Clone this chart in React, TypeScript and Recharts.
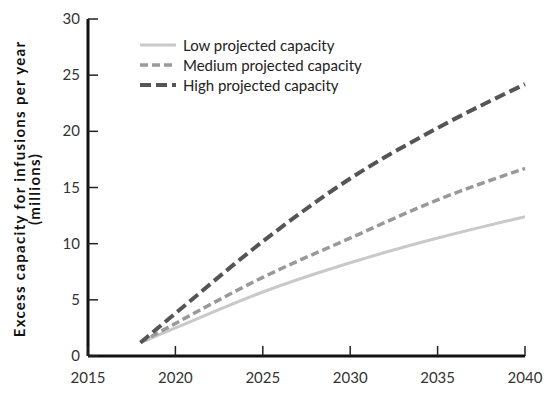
import { LineChart, Line, XAxis, YAxis } from 'recharts';

const years = [2018, 2020, 2025, 2030, 2035, 2040];
const lowCapacity = [1.2, 2.5, 5.7, 8.3, 10.5, 12.4];
const mediumCapacity = [1.2, 2.9, 7.0, 10.5, 13.9, 16.7];
const highCapacity = [1.2, 3.8, 10.2, 15.8, 20.3, 24.2];

const xTicks = [2015, 2020, 2025, 2030, 2035, 2040];
const yTicks = [0, 5, 10, 15, 20, 25, 30];

const seriesInfo = [
  { key: 'low', name: 'Low projected capacity', color: '#c9c9c9', width: 3, dash: undefined },
  { key: 'medium', name: 'Medium projected capacity', color: '#999999', width: 3.5, dash: '8 4' },
  { key: 'high', name: 'High projected capacity', color: '#555555', width: 4, dash: '11 5' },
];

const chartData = years.map((year, i) => ({
  year,
  low: lowCapacity[i],
  medium: mediumCapacity[i],
  high: highCapacity[i],
}));

const FONT = 'Lato, sans-serif';

function YTick({ x, y, payload }: any) {
  return (
    <g>
      <line x1={x} y1={y} x2={x + 10} y2={y} stroke="#222" strokeWidth={1.5} />
      <text x={x - 8} y={y} dy={5} textAnchor="end" fontSize={15} fill="#333" fontFamily={FONT}>
        {payload.value}
      </text>
    </g>
  );
}

function XTick({ x, y, payload }: any) {
  return (
    <g>
      <line x1={x} y1={y} x2={x} y2={y - 10} stroke="#222" strokeWidth={1.5} />
      <text x={x} y={y + 27} textAnchor="middle" fontSize={15} fill="#333" fontFamily={FONT}>
        {payload.value}
      </text>
    </g>
  );
}

function LegendBox() {
  return (
    <div style={{ position: 'absolute', left: 140, top: 35, fontFamily: FONT, fontSize: 15, color: '#222' }}>
      {seriesInfo.map((s) => (
        <div key={s.key} style={{ display: 'flex', alignItems: 'center', height: 20 }}>
          <svg width={43} height={10}>
            <line x1={0} y1={5} x2={36} y2={5} stroke={s.color} strokeWidth={s.width} strokeDasharray={s.dash} />
          </svg>
          <span>{s.name}</span>
        </div>
      ))}
    </div>
  );
}

function YLabel() {
  return (
    <text
      transform="translate(27, 189) rotate(-90)"
      textAnchor="middle"
      fontFamily={FONT}
      fontWeight={700}
      fontSize={15}
      letterSpacing={1.3}
      fill="#111"
    >
      <tspan x={0} dy={-2}>Excess capacity for infusions per year</tspan>
      <tspan x={0} dy={15}>(millions)</tspan>
    </text>
  );
}

export default function App() {
  return (
    <div style={{ position: 'absolute', left: 0, top: 0, width: 555, height: 395, background: '#fff' }}>
      <LineChart width={555} height={395} data={chartData} margin={{ top: 19, right: 30, bottom: 9, left: 28 }}>
        <XAxis
          dataKey="year"
          type="number"
          domain={[2015, 2040]}
          ticks={xTicks}
          height={30}
          tickSize={0}
          tickMargin={0}
          tickLine={false}
          tick={<XTick />}
          axisLine={{ stroke: '#111', strokeWidth: 3 }}
        />
        <YAxis
          type="number"
          domain={[0, 30]}
          ticks={yTicks}
          width={60}
          tickSize={0}
          tickMargin={0}
          tickLine={false}
          tick={<YTick />}
          axisLine={{ stroke: '#111', strokeWidth: 3 }}
          label={{ content: () => <YLabel /> }}
        />
        {seriesInfo.map((s) => (
          <Line
            key={s.key}
            dataKey={s.key}
            name={s.name}
            type="monotone"
            stroke={s.color}
            strokeWidth={s.width}
            strokeDasharray={s.dash}
            dot={false}
            activeDot={false}
            isAnimationActive={false}
          />
        ))}
      </LineChart>
      <LegendBox />
    </div>
  );
}
